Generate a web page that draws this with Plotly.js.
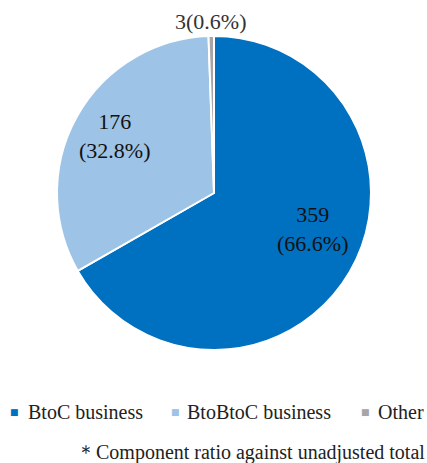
<!DOCTYPE html>
<html>
<head>
<meta charset="utf-8">
<script src="https://cdn.plot.ly/plotly-3.0.1.min.js"></script>
<style>html,body{margin:0;padding:0;background:#fff;}#chart{width:427px;height:463px;}</style>
</head>
<body>
<div id="chart"></div>
<script>
const categories = ["BtoC business", "BtoBtoC business", "Other"];
const values = [359, 176, 3];
const percentLabels = ["66.6%", "32.8%", "0.6%"];
const colors = ["#0070C0", "#9DC3E6", "#A6A6A6"];
const footnote = "＊Component ratio against unadjusted total";

const texts = values.map((v, i) => i === 2 ? v + "(" + percentLabels[i] + ")" : v + "<br>(" + percentLabels[i] + ")");
const serifFamily = "Liberation Serif";

const W = 427, H = 463;

const trace = {
  type: "pie",
  labels: categories,
  values: values,
  textinfo: "none",
  hoverinfo: "label+value",
  sort: false,
  direction: "clockwise",
  rotation: 0,
  showlegend: false,
  marker: {colors: colors, line: {color: "#ffffff", width: 2}},
  automargin: false,
  domain: {x: [0.1335, 0.8689], y: [0.2441, 0.9222]}
};

// slice labels placed like the reference (text from the data arrays)
const labelPos = [[312, 229], [114, 136], [210, 21]];
const annotations = [];
texts.forEach((t, i) => {
  annotations.push({text: t, xref: "paper", yref: "paper", x: labelPos[i][0] / W, xanchor: "center",
    y: 1 - labelPos[i][1] / H, yanchor: "middle", showarrow: false, align: "center",
    font: {family: serifFamily, size: 22, color: i === 2 ? "#333333" : "#111111"}});
});

// legend built as annotations (small square markers like the reference)
const legendMarkerX = [15, 175, 365];
const legendTextX = [26, 185, 376];
const legendY = 1 - 412 / H;
categories.forEach((c, i) => {
  annotations.push({text: "■", xref: "paper", yref: "paper", x: legendMarkerX[i] / W, xanchor: "center",
    y: legendY, yanchor: "middle", showarrow: false, font: {family: "DejaVu Sans", size: 9, color: colors[i]}});
  annotations.push({text: c, xref: "paper", yref: "paper", x: legendTextX[i] / W, xanchor: "left",
    y: legendY, yanchor: "middle", showarrow: false, font: {family: serifFamily, size: 20, color: "#222222"}});
});
annotations.push({
  text: footnote, xref: "paper", yref: "paper", x: 1.0, xanchor: "right", y: 1 - 452 / H, yanchor: "middle",
  showarrow: false, font: {family: serifFamily, size: 20, color: "#222222"}
});

const layout = {
  width: W, height: H,
  margin: {l: 0, r: 0, t: 0, b: 0},
  paper_bgcolor: "#ffffff",
  font: {family: serifFamily},
  showlegend: false,
  annotations: annotations
};

Plotly.newPlot("chart", [trace], layout, {displayModeBar: false, staticPlot: true});
</script>
</body>
</html>
